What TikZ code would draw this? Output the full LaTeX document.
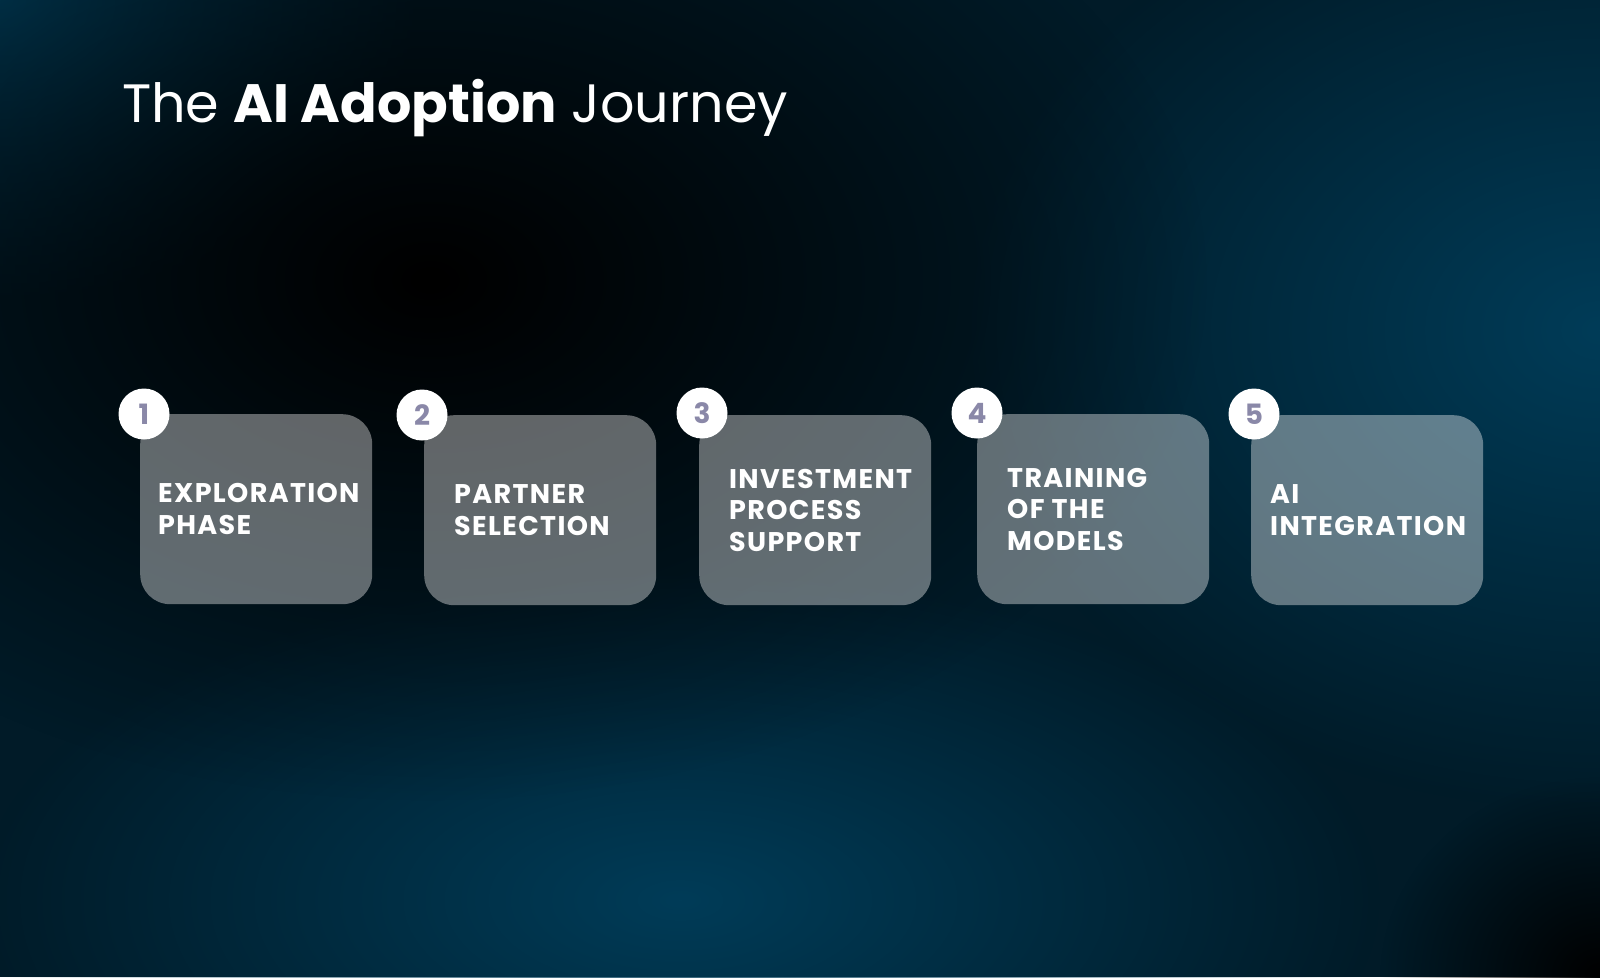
\documentclass[tikz,border=0pt]{standalone}
\usepackage{fontspec}
\setmainfont{Poppins}
\newfontfamily\stagefont[LetterSpace=5]{Poppins}
\usetikzlibrary{positioning,fadings}

\definecolor{bgbase}{HTML}{011B28}
\definecolor{bgblue}{HTML}{003C58}
\definecolor{numgray}{HTML}{8A88A8}

\tikzfading[name=blobfade, inner color=transparent!0, outer color=transparent!100]

\begin{document}
\begin{tikzpicture}[x=1pt,y=-1pt,
  stagebox/.style={fill=white, fill opacity=0.38, rounded corners=30pt,
    minimum width=232pt, minimum height=190pt, inner sep=0pt, anchor=north west},
  stagenum/.style={circle, fill=white, minimum size=51pt, inner sep=0pt,
    text=numgray, font=\fontsize{28}{28}\selectfont\bfseries},
  stagetext/.style={anchor=west, align=left, text=white, inner sep=0pt,
    font=\stagefont\fontsize{27}{31.5}\selectfont\bfseries}]
\useasboundingbox (0,0) rectangle (1600,977);

% background
\begin{scope}
\clip (0,0) rectangle (1600,977);
\fill[bgbase] (0,0) rectangle (1600,977);
\fill[bgblue, path fading=blobfade] (1600,330) ellipse (640 and 480);
\fill[bgblue, path fading=blobfade] (680,900) ellipse (700 and 330);
\fill[bgblue, path fading=blobfade] (0,0) ellipse (420 and 300);
\fill[black, path fading=blobfade] (430,280) ellipse (780 and 520);
\fill[black, path fading=blobfade] (1600,977) ellipse (220 and 200);
\end{scope}

% title
\node[anchor=base west, text=white, inner sep=0pt, font=\fontsize{54}{54}\selectfont]
  (title) at (122,122) {The \textbf{AI Adoption} Journey};

% stages
\node[stagebox] (B1) at (140,414) {};
\node[stagebox] (B2) at (424,415) {};
\node[stagebox] (B3) at (699,415) {};
\node[stagebox] (B4) at (977,414) {};
\node[stagebox] (B5) at (1251,415) {};

\node[stagetext, right=18pt of B1.west] (T1) {EXPLORATION\\PHASE};
\node[stagetext, right=30pt of B2.west] (T2) {PARTNER\\SELECTION};
\node[stagetext, right=30pt of B3.west] (T3) {INVESTMENT\\PROCESS\\SUPPORT};
\node[stagetext, right=30pt of B4.west] (T4) {TRAINING\\OF THE\\MODELS};
\node[stagetext, right=19pt of B5.west] (T5) {AI\\INTEGRATION};

\node[stagenum] (N1) at (144,414) {1};
\node[stagenum] (N2) at (422,415) {2};
\node[stagenum] (N3) at (702,413) {3};
\node[stagenum] (N4) at (977,413) {4};
\node[stagenum] (N5) at (1254,414) {5};
\end{tikzpicture}
\end{document}
